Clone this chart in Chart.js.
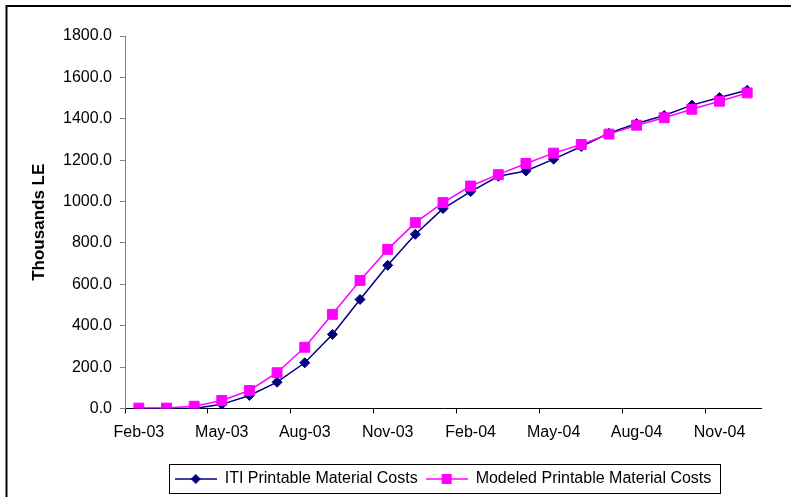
<!DOCTYPE html>
<html>
<head>
<meta charset="utf-8">
<script src="https://cdn.jsdelivr.net/npm/chart.js@4.4.1/dist/chart.umd.min.js"></script>
<style>
  html, body { margin: 0; padding: 0; background: #fff; }
  #wrap { width: 791px; height: 497px; }
</style>
</head>
<body>
<div id="wrap"><canvas id="c" width="791" height="497"></canvas></div>
<script>
// Monthly categories, Feb 2003 to Dec 2004
const months = ['Feb-03','Mar-03','Apr-03','May-03','Jun-03','Jul-03','Aug-03','Sep-03','Oct-03','Nov-03','Dec-03',
                'Jan-04','Feb-04','Mar-04','Apr-04','May-04','Jun-04','Jul-04','Aug-04','Sep-04','Oct-04','Nov-04','Dec-04'];

// Cumulative costs, thousands LE
const itiCosts     = [0, 0, 0, 20, 63, 127, 221, 358, 527, 692, 842, 966, 1048, 1122, 1148, 1205, 1266, 1330, 1377, 1416, 1466, 1503, 1538];
const modeledCosts = [2, 2, 11, 39, 87, 173, 296, 455, 619, 769, 898, 995, 1075, 1130, 1184, 1234, 1276, 1326, 1369, 1405, 1446, 1485, 1525];

const seriesNames = ['ITI Printable Material Costs', 'Modeled Printable Material Costs'];

// Value axis
const yMin = 0, yMax = 1800, yStep = 200;
// Only every third month carries a label and a tick mark
const labelEvery = 3;

const NAVY = '#000080';
const MAGENTA = '#FF00FF';
const FONT = "'Liberation Sans', Arial, sans-serif";

// Small line-with-marker swatch for the legend
function swatch(color, shape) {
  const cv = document.createElement('canvas');
  cv.width = 42; cv.height = 12;
  const g = cv.getContext('2d');
  g.strokeStyle = color; g.fillStyle = color; g.lineWidth = 1.5;
  g.beginPath(); g.moveTo(0, 6); g.lineTo(42, 6); g.stroke();
  g.beginPath();
  if (shape === 'diamond') {
    g.moveTo(21, 1); g.lineTo(26, 6); g.lineTo(21, 11); g.lineTo(16, 6); g.closePath();
  } else {
    g.rect(16, 1, 10, 10);
  }
  g.fill();
  return cv;
}
const swatches = [swatch(NAVY, 'diamond'), swatch(MAGENTA, 'square')];

const framePlugin = {
  id: 'frame',
  beforeDraw(chart) {
    const ctx = chart.ctx;
    ctx.save();
    ctx.fillStyle = '#fff';
    ctx.fillRect(0, 0, chart.width, chart.height);
    ctx.strokeStyle = '#000';
    ctx.lineWidth = 2;
    ctx.beginPath();
    ctx.moveTo(6.5, chart.height);
    ctx.lineTo(6.5, 6);
    ctx.lineTo(chart.width, 6);
    ctx.stroke();
    ctx.restore();
  },
  afterDraw(chart) {
    const hb = chart.legend && chart.legend.legendHitBoxes;
    if (!hb || !hb.length) return;
    const first = hb[0], last = hb[hb.length - 1];
    const l = Math.round(first.left - 6) + 0.5;
    const r = Math.round(last.left + last.width + 9) + 0.5;
    const t = Math.round(first.top - 7) + 0.5;
    const b = Math.round(first.top + first.height + 6) + 0.5;
    const ctx = chart.ctx;
    ctx.save();
    ctx.strokeStyle = '#000';
    ctx.lineWidth = 1;
    ctx.strokeRect(l, t, r - l, b - t);
    ctx.restore();
  }
};

new Chart(document.getElementById('c'), {
  type: 'line',
  data: {
    labels: months,
    datasets: [
      {
        label: seriesNames[0],
        data: itiCosts,
        borderColor: NAVY,
        backgroundColor: NAVY,
        borderWidth: 1.5,
        pointStyle: 'rectRot',
        pointRadius: 5,
        pointBorderWidth: 1,
        tension: 0,
        order: 1
      },
      {
        label: seriesNames[1],
        data: modeledCosts,
        borderColor: MAGENTA,
        backgroundColor: MAGENTA,
        borderWidth: 1.5,
        pointStyle: 'rect',
        pointRadius: 7,
        pointBorderWidth: 1,
        tension: 0,
        order: 0
      }
    ]
  },
  options: {
    responsive: false,
    animation: false,
    devicePixelRatio: 1,
    layout: { padding: { left: 25, right: 30, top: 36, bottom: 0 } },
    plugins: {
      tooltip: { enabled: false },
      legend: {
        position: 'bottom',
        fullSize: false,
        labels: {
          usePointStyle: true,
          pointStyleWidth: 42,
          padding: 8,
          color: '#000',
          font: { family: FONT, size: 16 },
          generateLabels(chart) {
            const items = Chart.defaults.plugins.legend.labels.generateLabels(chart);
            items.sort((a, b) => a.datasetIndex - b.datasetIndex);
            items.forEach(it => { it.pointStyle = swatches[it.datasetIndex]; });
            return items;
          }
        }
      }
    },
    scales: {
      x: {
        offset: true,
        afterFit(s) { s.height = 54.5; },
        border: { display: true, color: '#000', width: 1 },
        grid: {
          offset: true,
          drawOnChartArea: false,
          drawTicks: true,
          tickLength: 5,
          color: c => (c.index % labelEvery === 0 ? '#000' : 'rgba(0,0,0,0)'),
          tickColor: c => (c.index % labelEvery === 0 ? '#000' : 'rgba(0,0,0,0)')
        },
        ticks: {
          autoSkip: false,
          maxRotation: 0,
          padding: 9,
          color: '#000',
          font: { family: FONT, size: 16 },
          callback: (v, i) => (i % labelEvery === 0 ? months[i] : '')
        }
      },
      y: {
        min: yMin,
        max: yMax,
        afterFit(s) { s.width = 100; },
        border: { display: true, color: '#808080', width: 1 },
        grid: {
          drawOnChartArea: false,
          drawTicks: true,
          tickLength: 5,
          color: '#808080'
        },
        ticks: {
          stepSize: yStep,
          padding: 8,
          color: '#000',
          font: { family: FONT, size: 16 },
          callback: v => Number(v).toFixed(1)
        },
        title: {
          display: true,
          text: 'Thousands LE',
          color: '#000',
          font: { family: FONT, size: 17, weight: 'bold' },
          padding: { top: 4, bottom: 4 }
        }
      }
    }
  },
  plugins: [framePlugin]
});
</script>
</body>
</html>
